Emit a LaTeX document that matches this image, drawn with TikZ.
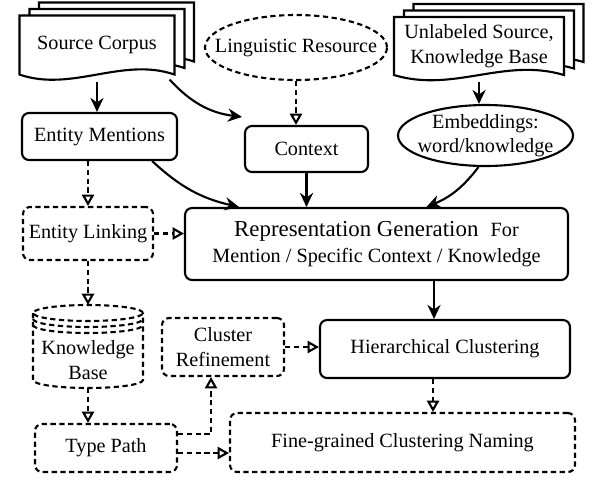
\documentclass[tikz,border=0pt]{standalone}
\usepackage{fontspec}
\setmainfont{Liberation Serif}
\usepackage{tikz}
\usetikzlibrary{shapes.geometric,arrows.meta,positioning,backgrounds,calc}

\tikzset{
  base/.style={font=\fontsize{11.5}{14}\selectfont, align=center, inner sep=1pt, line width=1.2pt},
  box/.style={base, draw, rounded corners=4pt},
  dbox/.style={box, dash pattern=on 3pt off 2pt},
  doc/.style={base},
  docline/.style={line width=1.2pt, fill=white},
  dline/.style={line width=1.2pt, dash pattern=on 3pt off 2pt},
  flow/.style={line width=1.2pt, -{Stealth[length=8pt,width=7.5pt]}},
  dflow/.style={dline, -{Triangle[open,length=6.5pt,width=7pt]}},
}

% stack of three pages behind a document node
\newcommand{\docstack}[1]{%
  \begin{pgfonlayer}{background}
    \foreach \dx/\dy in {19.5/-13,10/-6.5,0/0}{
      \draw[docline] ([shift={(\dx,\dy)}]#1.north west) -- ([shift={(\dx,\dy)}]#1.north east)
        -- ([shift={(\dx,\dy)}]#1.south east)
        .. controls ([shift={(\dx+25,\dy-18)}]#1.south) and ([shift={(\dx-25,\dy+18)}]#1.south)
        .. ([shift={(\dx,\dy)}]#1.south west) -- cycle;
    }
  \end{pgfonlayer}}

\begin{document}
\begin{tikzpicture}[x=0.02cm, y=-0.02cm]
  \useasboundingbox (0,0) rectangle (604,484);

  % --- sources ---
  \node[doc, minimum width=3.06cm, minimum height=1.14cm] (src) at (97,45) {Source Corpus};
  \docstack{src}
  \node[doc, minimum width=3.36cm, minimum height=1.12cm] (unl) at (479,46) {Unlabeled Source,\\Knowledge Base};
  \docstack{unl}
  \node[base, minimum width=3.64cm, minimum height=1.3cm] (ling) at (296,47.5) {Linguistic Resource};
  \draw[dline] (ling.center) ellipse [x radius=1.82cm, y radius=0.65cm];

  % --- second row ---
  \node[box, minimum width=3.1cm, minimum height=0.94cm] (ment) at (99.5,136.5) {Entity Mentions};
  \node[box, minimum width=2.46cm, minimum height=0.92cm] (ctx) at (306.5,149) {Context};
  \node[base, minimum width=3.5cm, minimum height=1.22cm] (emb) at (485.5,135.5) {Embeddings:\\word/knowledge};
  \draw[line width=1.2pt] (emb.center) ellipse [x radius=1.75cm, y radius=0.61cm];

  % --- representation ---
  \node[dbox, minimum width=2.6cm, minimum height=1.06cm] (link) at (88,233.5) {Entity Linking};
  \node[box, minimum width=7.66cm, minimum height=1.44cm] (rep) at (376.5,244)
    {{\fontsize{13}{15}\selectfont Representation Generation}\hspace{7pt}For\\[1pt]
     Mention / Specific Context / Knowledge};

  % --- knowledge base (cylinder) ---
  \node[base] (kb) at (88,360) {Knowledge\\Base};
  \draw[dline] (88,313) ellipse [x radius=1.1cm, y radius=0.16cm];
  \draw[dline] (33,319) arc[start angle=180, end angle=360, x radius=1.1cm, y radius=0.16cm];
  \draw[dline] (33,325) arc[start angle=180, end angle=360, x radius=1.1cm, y radius=0.16cm];
  \draw[dline] (33,313) -- (33,380) arc[start angle=180, end angle=360, x radius=1.1cm, y radius=0.16cm] -- (143,313);
  \coordinate (kbtop) at (88,305);
  \coordinate (kbbot) at (88,388);

  % --- clustering ---
  \node[dbox, minimum width=2.44cm, minimum height=1.16cm] (clref) at (223,347) {Cluster\\Refinement};
  \node[box, minimum width=5cm, minimum height=1.16cm] (hier) at (445,349) {Hierarchical Clustering};
  \node[dbox, minimum width=2.84cm, minimum height=0.96cm] (tpath) at (106,448) {Type Path};
  \node[dbox, minimum width=6.9cm, minimum height=1.18cm] (fine) at (402.5,442.5) {Fine-grained Clustering Naming};

  % --- solid arrows ---
  \draw[flow] ([yshift=-4pt]src.south) -- (src.south |- ment.north);
  \draw[flow] ([xshift=-0.1cm,yshift=-0.1cm]src.south east) to[bend right=20] ([xshift=-0.04cm,yshift=0.16cm]ctx.north west);
  \draw[flow] ([yshift=-4pt]unl.south) -- (unl.south |- emb.north);
  \draw[flow] (ment.-25) to[bend right=15] ([xshift=1.1cm]rep.north west);
  \draw[flow] (ctx.south) -- (ctx.south |- rep.north);
  \draw[flow] ([xshift=-0.14cm]emb.south) to[bend left=15] ([xshift=1cm]rep.north);
  \coordinate (hin) at ([xshift=-0.22cm]hier.north);
  \draw[flow] (hin |- rep.south) -- (hin);

  % --- dashed arrows ---
  \draw[dflow] (ling.south) -- (ling.south |- ctx.north);
  \draw[dflow] (link.north |- ment.south) -- (link.north);
  \draw[dflow] (link.east) -- (link.east -| rep.west);
  \draw[dflow] (link.south) -- (kbtop);
  \draw[dflow] (kbbot) -- (kbbot |- tpath.north);
  \draw[dflow] (clref.east) -- (clref.east -| hier.west);
  \coordinate (hout) at ([xshift=-0.24cm]hier.south);
  \draw[dflow] (hout) -- (hout |- fine.north);
  \draw[dflow] ([yshift=0.28cm]tpath.east) -| ([xshift=-0.24cm]clref.south);
  \coordinate (tpo) at ([yshift=-0.1cm]tpath.east);
  \draw[dflow] (tpo) -- (tpo -| fine.west);
\end{tikzpicture}
\end{document}
